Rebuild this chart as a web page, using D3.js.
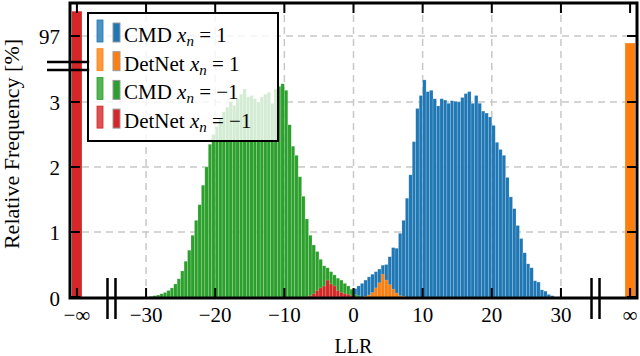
<!DOCTYPE html>
<html>
<head>
<meta charset="utf-8">
<script src="https://cdn.jsdelivr.net/npm/d3@7"></script>
<style>
body { margin: 0; background: #fff; }
</style>
</head>
<body>
<svg id="chart" width="640" height="356" font-family="'Liberation Serif', 'Times New Roman', 'DejaVu Serif', serif"></svg>
<script>
// histogram bins are 0.5 LLR wide, values in percent
var binWidth = 0.5;

var seriesNames = ["CMD", "DetNet", "CMD", "DetNet"];
var seriesSymbols = ["1", "1", "\u22121", "\u22121"];
var seriesColors = ["#1f77b4", "#ff7f0e", "#2ca02c", "#d62728"];
var seriesStart = [0, 1.5, -29.5, -6.5];

var cmdPos = [0.13, 0.17, 0.21, 0.26, 0.31, 0.35, 0.39, 0.43, 0.49, 0.5,
	0.62, 0.76, 0.75, 0.98, 1.18, 1.52, 1.88, 2.39, 2.9, 3.1,
	3.34, 3.16, 3.18, 3.05, 2.94, 3.05, 3.03, 2.98, 3.02, 3.01,
	3.0, 3.07, 3.13, 3.16, 2.98, 3.1, 2.98, 2.86, 2.83, 2.77,
	2.64, 2.38, 2.27, 2.18, 1.84, 1.54, 1.36, 1.10, 0.90, 0.68,
	0.51, 0.45, 0.25, 0.23, 0.11, 0.09, 0.04, 0.02];
var detPos = [0.01, 0.03, 0.07, 0.14, 0.22, 0.35, 0.26, 0.19, 0.12, 0.06, 0.02, 0.01];
var cmdNeg = [0.01, 0.02, 0.03, 0.05, 0.07, 0.10, 0.14, 0.20, 0.28, 0.40,
	0.55, 0.72, 0.95, 1.18, 1.42, 1.72, 2.0, 2.35, 2.5, 2.62,
	2.75, 2.85, 2.92, 3.0, 2.95, 3.05, 3.12, 3.2, 3.08, 3.1,
	3.05, 3.0, 3.08, 3.12, 3.15, 2.98, 3.2, 3.24, 3.28, 3.18,
	2.65, 2.32, 2.18, 1.85, 1.55, 1.2, 0.95, 0.8, 0.7, 0.58,
	0.48, 0.45, 0.39, 0.34, 0.29, 0.26, 0.21, 0.17, 0.12, 0.04, 0.02];
var detNeg = [0.02, 0.05, 0.1, 0.14, 0.17, 0.26, 0.2, 0.17, 0.1, 0.07, 0.05, 0.04, 0.02];
var seriesValues = [cmdPos, detPos, cmdNeg, detNeg];

// LLR = +-infinity, drawn at +-40
var infSeries = [3, 1];
var infPositions = [-40, 40];
var infValues = [97.38, 96.89];

var xTicks = [-40, -30, -20, -10, 0, 10, 20, 30, 40];
var xTickLabels = ["\u2212\u221e", "\u221230", "\u221220", "\u221210", "0", "10", "20", "30", "\u221e"];
var xGrid = [-30, -20, -10, 0, 10, 20, 30];
var yTicks = [0, 1, 2, 3, 97];
var yTickLabels = ["0", "1", "2", "3", "97"];
var yGrid = [1, 2, 3, 97];

var svg = d3.select('#chart');
var plotLeft = 70, plotRight = 637, plotTop = 3, plotBottom = 298;

var x = d3.scaleLinear().domain([-41, 41]).range([plotLeft, plotRight]);
// broken axis: 0..3.5 then 96.5..97.5
var y = d3.scaleLinear().domain([0, 3.5, 96.5, 97.5]).range([297, 69.5, 68.5, 3.5]);

// grid
svg.append('g').selectAll('line')
	.data(xGrid).enter().append('line')
	.attr('x1', function(d){ return x(d); })
	.attr('x2', function(d){ return x(d); })
	.attr('y1', plotTop).attr('y2', plotBottom)
	.style('stroke', '#c8c8c8').style('stroke-width', 1.5)
	.style('stroke-dasharray', '7,5');
svg.append('g').selectAll('line')
	.data(yGrid).enter().append('line')
	.attr('y1', function(d){ return y(d); })
	.attr('y2', function(d){ return y(d); })
	.attr('x1', plotLeft).attr('x2', plotRight)
	.style('stroke', '#c8c8c8').style('stroke-width', 1.5)
	.style('stroke-dasharray', '7,5');

// histograms
seriesValues.forEach(function(values, s){
	svg.append('g').selectAll('rect')
		.data(values).enter().append('rect')
		.attr('x', function(d, i){ return x(seriesStart[s] + i * binWidth); })
		.attr('width', x(binWidth) - x(0))
		.attr('y', function(d){ return y(d); })
		.attr('height', function(d){ return y(0) - y(d); })
		.style('fill', seriesColors[s])
		.style('stroke', 'rgba(255,255,255,0.3)')
		.style('stroke-width', 0.6);
});

// infinity bars
svg.append('g').selectAll('rect')
	.data(infValues).enter().append('rect')
	.attr('x', function(d, i){ return x(infPositions[i] - 0.72); })
	.attr('width', x(1.44) - x(0))
	.attr('y', function(d){ return y(d); })
	.attr('height', function(d){ return y(0) - y(d); })
	.style('fill', function(d, i){ return seriesColors[infSeries[i]]; });

// frame
svg.append('rect')
	.attr('x', plotLeft).attr('y', plotTop)
	.attr('width', plotRight - plotLeft).attr('height', plotBottom - plotTop)
	.style('fill', 'none').style('stroke', '#000').style('stroke-width', 3);

// ticks
var tickG = svg.append('g').style('stroke', '#000').style('stroke-width', 2);
xTicks.forEach(function(t){
	tickG.append('line').attr('x1', x(t)).attr('x2', x(t)).attr('y1', plotBottom).attr('y2', plotBottom - 10);
	tickG.append('line').attr('x1', x(t)).attr('x2', x(t)).attr('y1', plotTop).attr('y2', plotTop + 10);
});
yTicks.forEach(function(t){
	tickG.append('line').attr('y1', y(t)).attr('y2', y(t)).attr('x1', plotLeft).attr('x2', plotLeft + 10);
	tickG.append('line').attr('y1', y(t)).attr('y2', y(t)).attr('x1', plotRight).attr('x2', plotRight - 10);
});

// tick labels
svg.append('g').selectAll('text')
	.data(xTicks).enter().append('text')
	.attr('x', function(d){ return x(d); })
	.attr('y', 322)
	.attr('text-anchor', 'middle')
	.style('font-size', '21px')
	.text(function(d, i){ return xTickLabels[i]; });
svg.append('g').selectAll('text')
	.data(yTicks).enter().append('text')
	.attr('x', 60)
	.attr('y', function(d){ return y(d) + (d === 0 ? 9 : 8); })
	.attr('text-anchor', 'end')
	.style('font-size', '21px')
	.text(function(d, i){ return yTickLabels[i]; });

// axis break marks
var breakG = svg.append('g').style('stroke', '#000').style('stroke-width', 2.5);
[-35, 35].forEach(function(b){
	breakG.append('line').attr('x1', x(b) - 4).attr('x2', x(b) - 4).attr('y1', 278).attr('y2', 319);
	breakG.append('line').attr('x1', x(b) + 4).attr('x2', x(b) + 4).attr('y1', 278).attr('y2', 319);
});
var yb = (y(3.5) + y(96.5)) / 2 - 3;
breakG.append('line').attr('x1', 47).attr('x2', 90).attr('y1', yb - 4).attr('y2', yb - 4);
breakG.append('line').attr('x1', 47).attr('x2', 90).attr('y1', yb + 4).attr('y2', yb + 4);

// axis labels
svg.append('text')
	.attr('transform', 'translate(19,144) rotate(-90)')
	.attr('text-anchor', 'middle')
	.style('font-size', '22px')
	.text('Relative Frequency [%]');
svg.append('text')
	.attr('x', x(0)).attr('y', 353)
	.attr('text-anchor', 'middle')
	.style('font-size', '20px')
	.text('LLR');

// legend
var legend = svg.append('g');
legend.append('rect')
	.attr('x', 88).attr('y', 13).attr('width', 190).attr('height', 128)
	.style('fill', 'rgba(255,255,255,0.8)')
	.style('stroke', '#000').style('stroke-width', 2);
seriesNames.forEach(function(name, i){
	var base = 42 + i * 28.7;
	legend.append('rect')
		.attr('x', 97).attr('y', base - 22).attr('width', 6).attr('height', 22)
		.style('fill', seriesColors[i]).style('fill-opacity', 0.8)
		.style('stroke', seriesColors[i]).style('stroke-width', 0.8);
	legend.append('rect')
		.attr('x', 113).attr('y', base - 19).attr('width', 7).attr('height', 19)
		.style('fill', seriesColors[i])
		.style('stroke', '#999').style('stroke-width', 1);
	var t = legend.append('text')
		.attr('x', 124).attr('y', base)
		.style('font-size', '21px');
	t.append('tspan').text(name + ' ');
	t.append('tspan').style('font-style', 'italic').text('x');
	t.append('tspan').style('font-style', 'italic').style('font-size', '15px').attr('dy', 4).text('n');
	t.append('tspan').attr('dy', -4).text(' = ' + seriesSymbols[i]);
});
</script>
</body>
</html>
